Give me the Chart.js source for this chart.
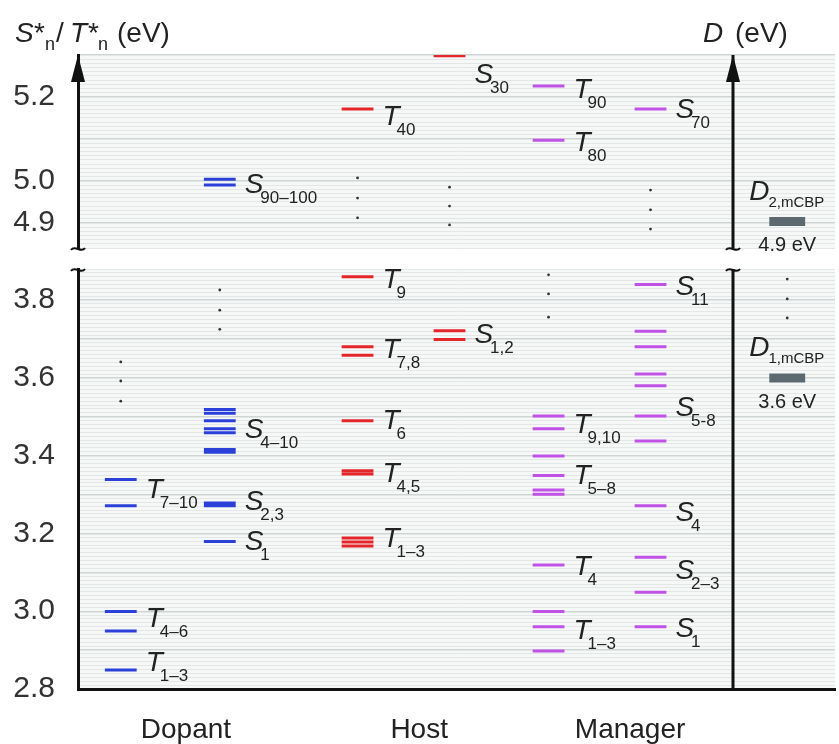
<!DOCTYPE html>
<html>
<head>
<meta charset="utf-8">
<script src="https://cdn.jsdelivr.net/npm/chart.js@4.4.1/dist/chart.umd.min.js"></script>
<style>
  html, body { margin: 0; padding: 0; background: #fff; }
  #wrap { position: relative; width: 839px; height: 744px; overflow: hidden; }
  #wrap canvas { position: absolute; left: 0; }
  #upper { top: 0; }
  #lower { top: 258px; }
</style>
</head>
<body>
<div id="wrap">
  <canvas id="upper" width="839" height="262"></canvas>
  <canvas id="lower" width="839" height="486"></canvas>
</div>
<script>
// excited state energies (eV)
const dopantT = [2.849, 2.949, 2.999, 3.271, 3.339];
const dopantS = [3.179, 3.271, 3.278, 3.409, 3.416, 3.459, 3.469, 3.490, 3.509, 3.519, 4.990, 5.004];
const hostT = [3.168, 3.178, 3.188, 3.353, 3.361, 3.490, 3.658, 3.680, 3.860, 5.171];
const hostS = [3.699, 3.721, 5.298];
const managerT = [2.898, 2.960, 2.999, 3.119, 3.301, 3.312, 3.349, 3.399, 3.469, 3.502, 5.097, 5.226];
const managerS = [2.960, 3.049, 3.139, 3.271, 3.438, 3.502, 3.580, 3.610, 3.680, 3.720, 3.840, 5.171];
const mcbpD = [3.600, 4.903];

// vertical "..." for omitted states
const dopantTDots = [3.540, 3.592, 3.641];
const dopantSDots = [3.725, 3.774, 3.826];
const hostTDots = [4.912, 4.959, 5.007];
const hostSDots = [4.895, 4.940, 4.985];
const managerTDots = [3.756, 3.816, 3.865];
const managerSDots = [4.885, 4.931, 4.978];
const mcbpDots = [3.754, 3.803, 3.854];

// state labels: letter, subscript, energy of label centre
const dopantTLabels = [['T', '1–3', 2.867], ['T', '4–6', 2.980], ['T', '7–10', 3.312]];
const dopantSLabels = [['S', '1', 3.178], ['S', '2,3', 3.281], ['S', '4–10', 3.466], ['S', '90–100', 4.990]];
const hostTLabels = [['T', '1–3', 3.186], ['T', '4,5', 3.353], ['T', '6', 3.489], ['T', '7,8', 3.672], ['T', '9', 3.852], ['T', '40', 5.152]];
const hostSLabels = [['S', '1,2', 3.710], ['S', '30', 5.252]];
const managerTLabels = [['T', '1–3', 2.949], ['T', '4', 3.114], ['T', '5–8', 3.348], ['T', '9,10', 3.479], ['T', '80', 5.090], ['T', '90', 5.217]];
const managerSLabels = [['S', '1', 2.954], ['S', '2–3', 3.103], ['S', '4', 3.253], ['S', '5-8', 3.522], ['S', '11', 3.834], ['S', '70', 5.169]];
const mcbpLabels = [['D', '2,mCBP', 4.973, '4.9 eV', 4.845], ['D', '1,mCBP', 3.676, '3.6 eV', 3.538]];

const groups = ['Dopant', 'Host', 'Manager'];
const upperTicks = ['4.9', '5.0', '5.2'];
const lowerTicks = ['2.8', '3.0', '3.2', '3.4', '3.6', '3.8'];

// layout (x axis runs 0..10 across the plot)
const FONT = '"Liberation Sans", Arial, sans-serif';
const BLUE = '#2b40d8', RED = '#e3262a', PURPLE = '#c052e6', GRAY = '#5c6a70';
const LEVEL_HALF = 0.21, D_HALF = 0.237;
const D_X = 9.369, D_AXIS_X = 8.647;
const groupX = [1.426, 4.507, 7.293];

const columns = [
  { x: 0.565, levels: dopantT, dots: dopantTDots, labels: dopantTLabels, color: BLUE },
  { x: 1.873, levels: dopantS, dots: dopantSDots, labels: dopantSLabels, color: BLUE },
  { x: 3.693, levels: hostT, dots: hostTDots, labels: hostTLabels, color: RED },
  { x: 4.908, levels: hostS, dots: hostSDots, labels: hostSLabels, color: RED },
  { x: 6.216, levels: managerT, dots: managerTDots, labels: managerTLabels, color: PURPLE },
  { x: 7.563, levels: managerS, dots: managerSDots, labels: managerSLabels, color: PURPLE }
];

const inPanel = (v, upper) => upper ? v > 4.3 : v < 4.3;

function segments(cx, half, values, upper) {
  const pts = [];
  values.filter(v => inPanel(v, upper)).forEach(v => {
    pts.push({ x: cx - half, y: v }, { x: cx + half, y: v }, { x: cx, y: null });
  });
  return pts;
}

function dotPoints(cx, values, upper) {
  return values.filter(v => inPanel(v, upper)).map(v => ({ x: cx, y: v }));
}

function panelDatasets(upper) {
  const sets = [];
  columns.forEach(c => {
    sets.push({
      data: segments(c.x, LEVEL_HALF, c.levels, upper),
      showLine: true, spanGaps: false, borderColor: c.color, borderWidth: 3,
      borderCapStyle: 'butt', pointRadius: 0
    });
    sets.push({
      data: dotPoints(c.x, c.dots, upper),
      showLine: false, pointRadius: 1.4, pointBackgroundColor: '#333', pointBorderWidth: 0
    });
  });
  sets.push({
    data: segments(D_X, D_HALF, mcbpD, upper),
    showLine: true, spanGaps: false, borderColor: GRAY, borderWidth: 9,
    borderCapStyle: 'butt', pointRadius: 0
  });
  sets.push({
    data: dotPoints(D_X, mcbpDots, upper),
    showLine: false, pointRadius: 1.4, pointBackgroundColor: '#333', pointBorderWidth: 0
  });
  return sets;
}

function gridColor(ctx) {
  if (!ctx.tick) return '#e3e7e7';
  return Math.round(ctx.tick.value * 100) % 10 === 0 ? '#cfd5d5' : '#e3e7e7';
}

function tickLabel(list) {
  return v => {
    const s = v.toFixed(1);
    return Math.abs(v - parseFloat(s)) < 1e-6 && list.includes(s) ? s : '';
  };
}

function drawBreak(ctx, x, y) {
  ctx.beginPath();
  ctx.moveTo(x - 7, y + 2);
  ctx.bezierCurveTo(x - 3, y - 4, x + 3, y + 6, x + 7, y);
  ctx.stroke();
}

function drawArrow(ctx, x, y) {
  ctx.beginPath();
  ctx.moveTo(x, y);
  ctx.lineTo(x - 7, y + 27);
  ctx.lineTo(x + 7, y + 27);
  ctx.closePath();
  ctx.fill();
}

function drawParts(ctx, parts, y) {
  parts.forEach(([text, font, x, dy]) => {
    ctx.font = font;
    ctx.fillText(text, x, y + dy);
  });
}

function makeDecor(upper) {
  return {
    id: 'decor',
    beforeDraw(chart) {
      const { ctx, chartArea: a } = chart;
      ctx.save();
      ctx.fillStyle = '#f6f8f8';
      ctx.fillRect(a.left, a.top, a.right - a.left, a.bottom - a.top);
      ctx.restore();
    },
    afterDatasetsDraw(chart) {
      const { ctx, scales: { x, y } } = chart;
      ctx.save();
      ctx.fillStyle = '#222';
      ctx.textBaseline = 'middle';
      columns.forEach(c => {
        c.labels.filter(l => inPanel(l[2], upper)).forEach(([letter, sub, v]) => {
          const px = x.getPixelForValue(c.x + LEVEL_HALF) + 9;
          const py = y.getPixelForValue(v);
          ctx.font = 'italic 28px ' + FONT;
          ctx.fillText(letter, px, py);
          const w = ctx.measureText(letter).width;
          ctx.font = '17px ' + FONT;
          ctx.fillText(sub, px + w - 3, py + 13);
        });
      });
      mcbpLabels.filter(l => inPanel(l[2], upper)).forEach(([letter, sub, v, val, vv]) => {
        const cx = x.getPixelForValue(D_X);
        const px = cx - 38;
        const py = y.getPixelForValue(v);
        ctx.textAlign = 'left';
        ctx.font = 'italic 28px ' + FONT;
        ctx.fillText(letter, px, py);
        const w = ctx.measureText(letter).width;
        ctx.font = '15px ' + FONT;
        ctx.fillText(sub, px + w - 1, py + 11);
        ctx.font = '20px ' + FONT;
        ctx.textAlign = 'center';
        ctx.fillText(val, cx, y.getPixelForValue(vv));
        ctx.textAlign = 'left';
      });
      ctx.restore();
    },
    afterDraw(chart) {
      const { ctx, chartArea: a, scales: { x } } = chart;
      const dx = Math.round(x.getPixelForValue(D_AXIS_X));
      ctx.save();
      ctx.strokeStyle = '#111';
      ctx.fillStyle = '#111';
      ctx.lineWidth = 3;
      ctx.beginPath();
      ctx.moveTo(dx, a.top);
      ctx.lineTo(dx, a.bottom);
      ctx.stroke();
      ctx.lineWidth = 2;
      [a.left, dx].forEach(ax => {
        if (upper) {
          drawArrow(ctx, ax, a.top);
          drawBreak(ctx, ax, a.bottom);
        } else {
          drawBreak(ctx, ax, a.top);
        }
      });
      if (upper) {
        ctx.fillStyle = '#222';
        ctx.textBaseline = 'alphabetic';
        const big = '28px ' + FONT, it = 'italic 28px ' + FONT, small = '18px ' + FONT;
        drawParts(ctx, [
          ['S', it, 15, 0], ['*', big, 34, 0], ['n', small, 45, 8], ['/', big, 56, 0],
          ['T', it, 70, 0], ['*', big, 88, 0], ['n', small, 98, 8], ['(eV)', big, 117, 0],
          ['D', it, 703, 0], ['(eV)', big, 735, 0]
        ], 42);
      }
      ctx.restore();
    }
  };
}

function makeChart(id, upper) {
  const xScale = {
    type: 'linear', min: 0, max: 10, display: !upper,
    grid: { display: false },
    border: { display: true, color: '#111', width: 3 },
    afterFit: s => { s.height = upper ? 0 : 55; },
    afterBuildTicks: s => { s.ticks = groupX.map(v => ({ value: v })); },
    ticks: {
      autoSkip: false, maxRotation: 0, padding: 16, color: '#222',
      font: { size: 28, family: FONT },
      callback: (v, i) => groups[i]
    }
  };
  return new Chart(document.getElementById(id), {
    type: 'scatter',
    data: { datasets: panelDatasets(upper) },
    options: {
      responsive: false,
      animation: false,
      layout: { padding: upper ? { top: 55, bottom: 14, left: 0, right: 0 } : { top: 11, bottom: 0, left: 0, right: 0 } },
      plugins: { legend: { display: false }, tooltip: { enabled: false } },
      scales: {
        x: xScale,
        y: {
          min: upper ? 4.84 : 2.8,
          max: upper ? 5.3 : 3.88,
          afterFit: s => { s.width = 78; s.paddingTop = 0; s.paddingBottom = 0; },
          border: { display: true, color: '#111', width: 3 },
          grid: {
            drawTicks: false,
            color: gridColor,
            lineWidth: ctx => (ctx.tick && Math.round(ctx.tick.value * 100) % 10 === 0 ? 1.4 : 1)
          },
          ticks: {
            stepSize: 0.01, maxTicksLimit: 200, autoSkip: false, padding: 23,
            color: '#333', font: { size: 30, family: FONT },
            callback: tickLabel(upper ? upperTicks : lowerTicks)
          }
        }
      }
    },
    plugins: [makeDecor(upper)]
  });
}

makeChart('upper', true);
makeChart('lower', false);
</script>
</body>
</html>
